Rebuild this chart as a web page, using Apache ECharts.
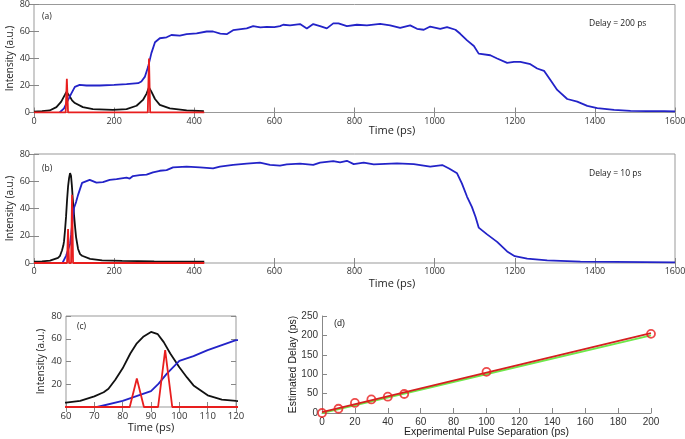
<!DOCTYPE html>
<html>
<head>
<meta charset="utf-8">
<script src="https://cdn.jsdelivr.net/npm/echarts@6/dist/echarts.min.js"></script>
<style>
html,body{margin:0;padding:0;background:#fff;}
#main{width:685px;height:439px;}
</style>
</head>
<body>
<div id="main"></div>
<script>
// (a) delay = 200 ps  [time ps, intensity]
var aBlue = [[64,0],[75,3],[81,7],[88,11],[93,14],[102,19],[114,20.4],[131,20],[164,20],[200,20.5],[231,21],[260,21.7],[268,23],[277,26.6],[285,34],[293,44],[302,52],[314,55],[331,55.7],[343,57.4],[364,57],[381,58],[406,58.6],[431,60],[447,60],[465,58.5],[481,58],[497,61],[531,62.3],[547,64],[565,63],[581,63.5],[600,63.2],[614,64],[622,65],[639,64.5],[664,65.5],[681,62.3],[697,65.5],[714,64],[731,62.3],[747,66],[760,66],[781,64],[806,65],[831,64.5],[864,65.7],[889,64.5],[914,62.7],[939,64.5],[956,62],[973,61.3],[989,63.7],[1014,62],[1031,63.2],[1052,61.3],[1064,58.3],[1081,53.4],[1098,49.3],[1110,43.6],[1139,42.4],[1156,40],[1181,36.8],[1198,37.5],[1214,37.5],[1239,35.8],[1256,32.6],[1273,30.9],[1289,24],[1306,16.7],[1331,10],[1356,8],[1381,4.9],[1406,3.2],[1448,2],[1489,1.2],[1530,1],[1573,1],[1600,0.8]];
var aBlack = [[0,0.7],[20,1],[39,1.5],[56,4],[68,8],[77,13],[81,15.3],[85,14],[89,12],[95,9],[102,7],[122,4],[147,2.5],[197,2],[231,2.5],[256,5],[272,9.3],[281,14],[287,18.6],[293,15.5],[302,10],[314,5.7],[339,3],[381,1.5],[424,1]];
var aRed = [[0,0],[79,0],[82,25],[85,0],[284,0],[287,40],[290,0],[425,0]];

// (b) delay = 10 ps, (c) is the 60-120 ps zoom of the same traces
var bBlue = [[71,0],[80,5.3],[90,14],[92.7,20.6],[95.6,29.4],[100,40.6],[105,44.7],[110,50],[115,54.4],[120,58.8],[139,61],[156,59],[172,59.4],[189,61],[206,61.6],[231,62.6],[239,62],[247,63.8],[264,64.5],[281,64.8],[297,66.5],[314,67.7],[331,68.2],[347,70.2],[381,70.7],[414,70.2],[447,69.4],[464,70.7],[497,72],[531,73],[564,73.6],[589,72],[614,71.4],[631,72.4],[664,73],[697,72],[714,73.6],[747,74.8],[764,73.9],[781,75],[798,72.6],[823,73.6],[848,72.4],[906,73.1],[948,72.6],[989,70.7],[1019,71.9],[1036,69.4],[1056,65.8],[1068,58.4],[1081,48.6],[1093,41.2],[1102,33.9],[1110,26],[1131,21],[1156,15.5],[1181,8.5],[1200,5],[1231,3.2],[1281,2],[1364,1],[1450,0.8],[1600,0.5]];
var bBlack = [[0,1],[20,1.2],[40,1.8],[60,3.8],[65,5.3],[70,9.4],[73.3,13],[75,16],[77.4,24],[80,34],[82.7,47],[85,56],[87.4,62],[90,66],[92.4,64],[94.5,57],[96.8,47],[100,35],[102.7,26],[105,19],[110,10.3],[115,6.5],[120,5.3],[140,3],[170,2],[220,1.5],[300,1.2],[425,1]];
var bRed = [[0,0],[82.5,0],[85,25],[87.5,0],[92.5,0],[95,50],[97.5,0],[425,0]];

// (d) estimated delay vs pulse separation
var sepX = [0, 10, 20, 30, 40, 50, 100, 200];
var estY = [0, 11, 26, 35, 42, 49, 106, 204];
var fitX = [0, 200];
var fitY = [2, 206];
var idealY = [0, 200];

var blue = '#2323c8', black = '#111111', red = '#e81e1e', green = '#6ee84a';
var font = 'Open Sans';

function pairs(xs, ys) {
    var out = [];
    for (var i = 0; i < xs.length; i++) out.push([xs[i], ys[i]]);
    return out;
}

var plain = function (v) { return String(v); };

// main axis with labels
function axis(grid, pos, min, max, step, extra) {
    var a = {
        gridIndex: grid, type: 'value', position: pos,
        min: min, max: max, interval: step,
        nameMoveOverlap: false,
        axisLine: {show: false},
        axisTick: {show: true, inside: true, length: 5, lineStyle: {color: '#888'}},
        splitLine: {show: false},
        axisLabel: {color: '#333', fontSize: 9, fontFamily: font, margin: 4, formatter: plain}
    };
    for (var k in extra) a[k] = extra[k];
    return a;
}
// mirror axis: ticks only (top / right)
function mirror(grid, pos, min, max, step) {
    return {
        gridIndex: grid, type: 'value', position: pos,
        min: min, max: max, interval: step,
        axisLine: {show: false},
        axisTick: {show: true, inside: true, length: 5, lineStyle: {color: '#888'}},
        axisLabel: {show: false},
        splitLine: {show: false}
    };
}
function line(xi, yi, data, color, z) {
    return {
        type: 'line', xAxisIndex: xi, yAxisIndex: yi, data: data,
        showSymbol: false, symbol: 'none', z: z,
        lineStyle: {color: color, width: 1.8}
    };
}
function txt(x, y, s, size, family, align) {
    return {
        type: 'text', x: x, y: y,
        style: {text: s, fill: '#222', fontSize: size || 8.5, fontFamily: family || font,
            textAlign: align || 'left', textVerticalAlign: 'middle'}
    };
}

var nameStyle = {color: '#222', fontSize: 10, fontFamily: font};

var option = {
    animation: false,
    grid: [
        {left: 34, top: 4.5, width: 641, height: 108, show: true, borderColor: '#999', borderWidth: 1, containLabel: false, outerBoundsMode: 'none'},
        {left: 34, top: 154, width: 641, height: 109, show: true, borderColor: '#999', borderWidth: 1, containLabel: false, outerBoundsMode: 'none'},
        {left: 66, top: 316, width: 170, height: 91, show: true, borderColor: '#999', borderWidth: 1, containLabel: false, outerBoundsMode: 'none'},
        {left: 322, top: 316, width: 329, height: 97, containLabel: false, outerBoundsMode: 'none'}
    ],
    xAxis: [
        axis(0, 'bottom', 0, 1600, 200),
        mirror(0, 'top', 0, 1600, 200),
        axis(1, 'bottom', 0, 1600, 200),
        mirror(1, 'top', 0, 1600, 200),
        axis(2, 'bottom', 60, 120, 10, {name: 'Time (ps)', nameLocation: 'middle', nameGap: 15,
            nameTextStyle: {color: '#222', fontSize: 11, fontFamily: font},
            axisLabel: {color: '#333', fontSize: 9.5, fontFamily: font, margin: 4, formatter: plain}}),
        mirror(2, 'top', 60, 120, 10),
        axis(3, 'bottom', 0, 200, 20, {name: 'Experimental Pulse Separation (ps)', nameLocation: 'middle', nameGap: 14,
            nameTextStyle: {color: '#222', fontSize: 10.5, fontFamily: 'Liberation Sans'},
            axisLine: {show: true, lineStyle: {color: '#888', width: 1}},
            axisLabel: {color: '#333', fontSize: 10, fontFamily: 'Liberation Sans', margin: 4, formatter: plain}})
    ],
    yAxis: [
        axis(0, 'left', 0, 80, 20, {name: 'Intensity (a.u.)', nameLocation: 'middle', nameGap: 19, nameTextStyle: nameStyle}),
        mirror(0, 'right', 0, 80, 20),
        axis(1, 'left', 0, 80, 20, {name: 'Intensity (a.u.)', nameLocation: 'middle', nameGap: 19, nameTextStyle: nameStyle}),
        mirror(1, 'right', 0, 80, 20),
        axis(2, 'left', 0, 80, 20, {name: 'Intensity (a.u.)', nameLocation: 'middle', nameGap: 20, nameTextStyle: nameStyle,
            axisLabel: {color: '#333', fontSize: 9.5, fontFamily: font, margin: 4, showMinLabel: false, formatter: plain}}),
        mirror(2, 'right', 0, 80, 20),
        axis(3, 'left', 0, 250, 50, {name: 'Estimated Delay (ps)', nameLocation: 'middle', nameGap: 23,
            nameTextStyle: {color: '#222', fontSize: 10.5, fontFamily: 'Liberation Sans'},
            axisLine: {show: true, lineStyle: {color: '#888', width: 1}},
            axisLabel: {color: '#333', fontSize: 10, fontFamily: 'Liberation Sans', margin: 4, formatter: plain}})
    ],
    series: [
        // (a)
        line(0, 0, aBlack, black, 2),
        line(0, 0, aBlue, blue, 3),
        line(0, 0, aRed, red, 4),
        // (b)
        line(2, 2, bBlack, black, 2),
        line(2, 2, bBlue, blue, 3),
        line(2, 2, bRed, red, 4),
        // (c)
        line(4, 4, bBlack, black, 2),
        line(4, 4, bBlue, blue, 3),
        line(4, 4, bRed, red, 4),
        // (d)
        {type: 'line', xAxisIndex: 6, yAxisIndex: 6, data: pairs(fitX, idealY), symbol: 'none', z: 2,
            lineStyle: {color: green, width: 2}},
        {type: 'line', xAxisIndex: 6, yAxisIndex: 6, data: pairs(fitX, fitY), symbol: 'none', z: 3,
            lineStyle: {color: '#d42020', width: 1.8}},
        {type: 'scatter', xAxisIndex: 6, yAxisIndex: 6, data: pairs(sepX, estY), symbol: 'circle', symbolSize: 8, z: 4,
            itemStyle: {color: 'rgba(255,255,255,0)', borderColor: red, borderWidth: 1.8}}
    ],
    graphic: [
        txt(42, 17, '(a)'),
        txt(589, 24, 'Delay = 200 ps'),
        txt(392, 131, 'Time (ps)', 11, font, 'center'),
        txt(42, 169, '(b)'),
        txt(589, 174, 'Delay = 10 ps'),
        txt(392, 284, 'Time (ps)', 11, font, 'center'),
        txt(77, 327, '(c)'),
        txt(334, 324, '(d)', 9, 'Liberation Sans')
    ]
};

var myChart = echarts.init(document.getElementById('main'));
myChart.setOption(option);
</script>
</body>
</html>
